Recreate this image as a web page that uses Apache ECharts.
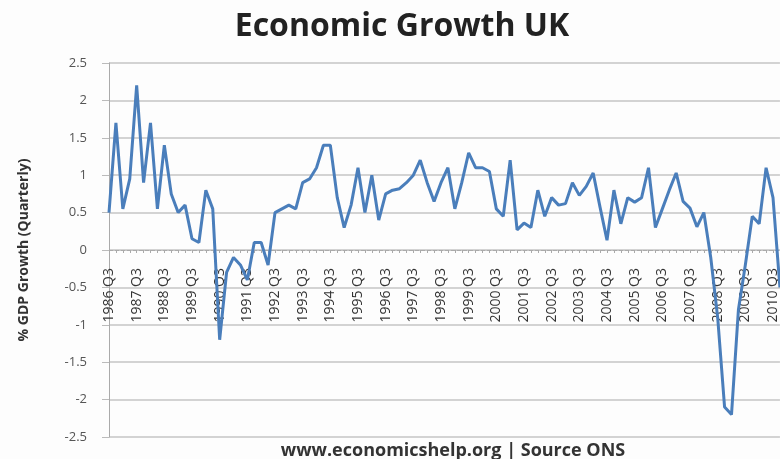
<!DOCTYPE html>
<html>
<head>
<meta charset="utf-8">
<script src="https://cdn.jsdelivr.net/npm/echarts@6/dist/echarts.min.js"></script>
<style>
  html, body { margin: 0; padding: 0; background: #fdfdfd; }
  #chart { width: 780px; height: 459px; }
</style>
</head>
<body>
<div id="chart"></div>
<script>
// quarterly labels, 1986 Q3 .. 2010 Q4
var quarters = []
for (var y = 1986; y <= 2010; y++) {
  for (var q = 1; q <= 4; q++) {
    if (y === 1986 && q < 3) continue
    quarters.push(y + ' Q' + q)
  }
}

// % GDP growth
var growth = [
  0.5, 1.7, 0.55, 0.95, 2.2, 0.9, 1.7, 0.55, 1.4, 0.75,
  0.5, 0.6, 0.15, 0.1, 0.8, 0.55, -1.2, -0.3, -0.1, -0.2,
  -0.4, 0.1, 0.1, -0.2, 0.5, 0.55, 0.6, 0.55, 0.9, 0.95,
  1.1, 1.4, 1.4, 0.7, 0.3, 0.6, 1.1, 0.5, 1.0, 0.4,
  0.75, 0.8, 0.82, 0.9, 1.0, 1.2, 0.9, 0.65, 0.9, 1.1,
  0.55, 0.9, 1.3, 1.1, 1.1, 1.05, 0.55, 0.45, 1.2, 0.27,
  0.36, 0.3, 0.8, 0.45, 0.7, 0.6, 0.62, 0.9, 0.73, 0.85,
  1.03, 0.57, 0.13, 0.8, 0.35, 0.7, 0.64, 0.7, 1.1, 0.3,
  0.55, 0.8, 1.03, 0.65, 0.56, 0.31, 0.5, -0.1, -0.9, -2.1,
  -2.2, -0.8, -0.2, 0.45, 0.35, 1.1, 0.7, -0.5
]

var myChart = echarts.init(document.getElementById('chart'))

var option = {
  backgroundColor: '#fdfdfd',
  animation: false,
  title: [
    {
      text: 'Economic Growth UK',
      left: 397,
      top: 6,
      textAlign: 'center',
      textStyle: { fontFamily: 'Open Sans', fontWeight: 'bold', fontSize: 32, color: '#222' }
    },
    {
      text: 'www.economicshelp.org | Source ONS',
      left: 448,
      top: 437,
      textAlign: 'center',
      textStyle: { fontFamily: 'Open Sans', fontWeight: 'bold', fontSize: 18, color: '#333' }
    }
  ],
  grid: { left: 109, top: 63, width: 675, height: 374, containLabel: false },
  xAxis: {
    type: 'category',
    data: quarters,
    boundaryGap: false,
    offset: -187,  // sit on the zero line
    axisLine: { onZero: false, lineStyle: { color: '#aaa', type: 'dashed', width: 1 } },
    axisTick: { show: true, interval: 0, length: 3, lineStyle: { color: '#aaa' } },
    axisLabel: {
      interval: 3,
      rotate: 90,
      margin: 18,
      fontFamily: 'Open Sans',
      fontSize: 14,
      color: '#333'
    },
    splitLine: { show: false }
  },
  yAxis: {
    type: 'value',
    min: -2.5,
    max: 2.5,
    interval: 0.5,
    name: '% GDP Growth (Quarterly)',
    nameLocation: 'middle',
    nameGap: 78,
    nameTextStyle: { fontFamily: 'Open Sans', fontWeight: 'bold', fontSize: 14, color: '#333' },
    axisLine: { show: true, lineStyle: { color: '#aaa' } },
    axisTick: { show: true, length: 7, lineStyle: { color: '#bbb' } },
    axisLabel: {
      margin: 22,
      fontFamily: 'Open Sans',
      fontSize: 13,
      color: '#555'
    },
    splitLine: { lineStyle: { color: '#c4c4c4', width: 1.5 } }
  },
  series: [
    {
      name: 'GDP growth',
      type: 'line',
      data: growth,
      symbol: 'none',
      lineStyle: { color: '#4a7ebb', width: 3 },
      clip: true
    }
  ]
}

myChart.setOption(option)
</script>
</body>
</html>
